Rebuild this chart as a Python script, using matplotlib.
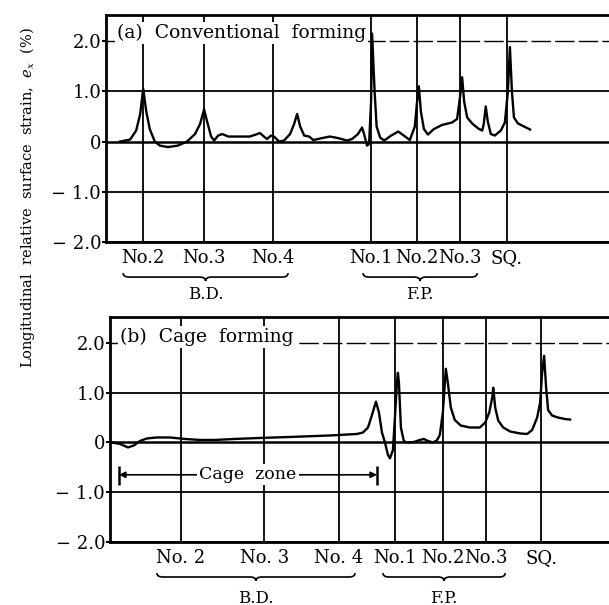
import numpy as np
import matplotlib
matplotlib.use("Agg")
import matplotlib.pyplot as plt
from matplotlib.path import Path
from matplotlib.patches import PathPatch
import matplotlib.transforms as mtrans

plt.rcParams['font.family'] = ['DejaVu Serif']
plt.rcParams['mathtext.fontset'] = 'dejavuserif'

# ---- data (x = position along the line, arbitrary units 0..100) ----
# (a) conventional forming
xa = [2.8, 4.8, 6.0, 6.8, 7.4, 8.0, 8.7, 9.7, 10.7, 12.3, 14.3, 16.1, 17.7, 18.7,
      19.5, 20.1, 20.9, 21.5, 22.3, 23.1, 24.3, 28.6, 29.8, 30.6, 31.4, 32.0, 32.8,
      33.4, 34.4, 35.4, 36.6, 37.4, 38.0, 38.6, 39.4, 40.4, 41.2, 43.0, 44.5, 46.1,
      47.9, 48.9, 50.1, 50.9, 51.3, 51.9, 52.3, 52.7, 52.9, 53.4, 53.8, 54.5, 55.3,
      56.7, 58.1, 59.2, 60.4, 61.4, 61.8, 62.2, 62.6, 63.2, 64.0, 65.2, 66.8, 68.8,
      69.8, 70.4, 70.8, 71.2, 71.8, 72.8, 74.0, 74.8, 75.1, 75.5, 75.9, 76.5, 77.3,
      78.5, 79.3, 79.9, 80.3, 80.7, 81.1, 81.9, 83.1, 84.3]
ya = [0.0, 0.04, 0.22, 0.55, 1.05, 0.6, 0.25, 0.0, -0.08, -0.11, -0.08, 0.0, 0.15, 0.35,
      0.64, 0.4, 0.1, 0.02, 0.12, 0.15, 0.1, 0.1, 0.14, 0.17, 0.1, 0.05, 0.12,
      0.1, 0.0, 0.02, 0.15, 0.35, 0.55, 0.3, 0.12, 0.1, 0.03, 0.07, 0.1, 0.07,
      0.02, 0.05, 0.15, 0.28, 0.15, -0.08, -0.05, 0.8, 2.15, 1.0, 0.3, 0.08, 0.02,
      0.12, 0.2, 0.12, 0.03, 0.3, 0.75, 1.1, 0.6, 0.25, 0.14, 0.25, 0.33, 0.38,
      0.45, 0.9, 1.28, 0.8, 0.48, 0.36, 0.26, 0.22, 0.35, 0.7, 0.4, 0.15, 0.12,
      0.22, 0.38, 1.0, 1.88, 1.0, 0.48, 0.36, 0.3, 0.24]
stations_a = [7.4, 19.5, 33.2, 52.7, 61.8, 70.4, 79.7]
labels_a = ["No.2", "No.3", "No.4", "No.1", "No.2", "No.3", "SQ."]

# (b) cage forming
xb = [0.4, 2.0, 3.6, 4.8, 6.0, 7.4, 9.4, 12.0, 15.0, 18.0, 21.0, 25.0, 30.1, 36.1,
      44.1, 49.5, 50.7, 51.7, 52.5, 53.3, 53.9, 54.5, 55.1, 55.7, 56.1, 56.7, 57.1,
      57.5, 57.7, 57.9, 58.3, 58.9, 59.7, 60.9, 62.1, 62.9, 63.7, 64.7, 65.5, 66.1,
      66.7, 67.3, 67.7, 68.3, 69.1, 70.3, 72.1, 74.1, 75.2, 76.0, 76.6, 76.8, 77.2,
      77.8, 78.8, 80.2, 82.2, 83.6, 84.6, 85.6, 86.2, 86.6, 87.0, 87.4, 87.8, 88.6,
      89.8, 91.2, 92.2]
yb = [0.0, -0.03, -0.1, -0.06, 0.03, 0.08, 0.1, 0.1, 0.07, 0.05, 0.05, 0.07, 0.09, 0.11,
      0.14, 0.17, 0.2, 0.3, 0.55, 0.82, 0.6, 0.2, 0.0, -0.25, -0.32, -0.15, 0.5,
      1.2, 1.4, 1.2, 0.3, 0.02, 0.0, 0.01, 0.05, 0.07, 0.03, 0.0, 0.04, 0.15,
      0.6, 1.48, 1.2, 0.7, 0.45, 0.34, 0.3, 0.3, 0.4, 0.6, 0.9, 1.1, 0.7,
      0.44, 0.3, 0.22, 0.18, 0.17, 0.25, 0.5, 0.8, 1.4, 1.74, 1.1, 0.65, 0.54,
      0.5, 0.47, 0.46]
stations_b = [14.2, 30.9, 45.9, 57.1, 66.7, 75.4, 86.4]
labels_b = ["No. 2", "No. 3", "No. 4", "No.1", "No.2", "No.3", "SQ."]

yticks = [-2, -1, 0, 1, 2]
ytick_labels = ["\u2212 2.0", "\u2212 1.0", "0", "1.0", "2.0"]

cage_zone = (1.8, 53.5)
braces_a = [(3.4, 36.2, "B.D."), (51.1, 73.8, "F.P.")]
braces_b = [(9.4, 49.1, "B.D."), (54.7, 79.2, "F.P.")]


def brace(ax, x0, x1, ytop, h, text, ytext):
    tr = mtrans.blended_transform_factory(ax.transData, ax.transAxes)
    xm = (x0 + x1) / 2
    d = min(1.2, (x1 - x0) / 8)
    verts = [(x0, ytop), (x0, ytop - h / 2), (x0 + d, ytop - h / 2),
             (xm - d, ytop - h / 2), (xm, ytop - h / 2), (xm, ytop - h),
             (xm, ytop - h / 2), (xm + d, ytop - h / 2),
             (x1 - d, ytop - h / 2), (x1, ytop - h / 2), (x1, ytop)]
    codes = [Path.MOVETO, Path.CURVE3, Path.CURVE3, Path.LINETO, Path.CURVE3, Path.CURVE3,
             Path.CURVE3, Path.CURVE3, Path.LINETO, Path.CURVE3, Path.CURVE3]
    p = PathPatch(Path(verts, codes), transform=tr, fc='none', ec='black', lw=1.2,
                  clip_on=False)
    ax.add_patch(p)
    ax.text(xm, ytext, text, transform=tr, ha='center', va='center', fontsize=12)


def setup(ax, stations, labels):
    ax.set_xlim(0, 100)
    ax.set_ylim(-2, 2.52)
    ax.set_xticks(stations)
    ax.set_xticklabels(labels, fontsize=13)
    ax.set_yticks(yticks)
    ax.set_yticklabels(ytick_labels, fontsize=13)
    ax.tick_params(axis='x', length=0, pad=5)
    ax.tick_params(axis='y', length=3, width=1.5, direction='out', pad=0.5)
    ax.grid(True, color='black', lw=1.3)
    ax.get_ygridlines()[4].set_linestyle((0, (14, 3)))
    ax.get_ygridlines()[4].set_linewidth(1.0)
    ax.get_ygridlines()[2].set_linewidth(1.8)
    ax.set_axisbelow(True)
    for s in ['left', 'bottom', 'top']:
        ax.spines[s].set_linewidth(2.0)
    ax.spines['right'].set_visible(False)


fig = plt.figure(figsize=(6.09, 6.05), dpi=100)

ax1 = fig.add_axes([106 / 609, 1 - 242 / 605, 1 - 106 / 609, 227 / 605])
setup(ax1, stations_a, labels_a)
ax1.plot(xa, ya, color='black', lw=1.7)
ax1.text(0.022, 0.92, "(a)  Conventional  forming", transform=ax1.transAxes,
         fontsize=13.5, va='center', ha='left',
         bbox=dict(fc='white', ec='none', pad=1.5))
for x0, x1, t in braces_a:
    brace(ax1, x0, x1, -0.137, 0.035, t, -0.232)

ax2 = fig.add_axes([110 / 609, 1 - 542 / 605, 1 - 110 / 609, 225 / 605])
setup(ax2, stations_b, labels_b)
ax2.plot(xb, yb, color='black', lw=1.7)
ax2.text(0.02, 0.911, "(b)  Cage  forming", transform=ax2.transAxes,
         fontsize=13.5, va='center', ha='left',
         bbox=dict(fc='white', ec='none', pad=1.5))
ax2.annotate("", xy=(cage_zone[0], -0.65), xytext=(cage_zone[1], -0.65),
             arrowprops=dict(arrowstyle='<|-|>', color='black', lw=1.2,
                             mutation_scale=9, shrinkA=0, shrinkB=0))
ax2.vlines(cage_zone, -0.48, -0.85, color='black', lw=1.8)
ax2.text(sum(cage_zone) / 2, -0.65, "Cage  zone", fontsize=12.5, ha='center',
         va='center', bbox=dict(fc='white', ec='none', pad=1.5))
for x0, x1, t in braces_b:
    brace(ax2, x0, x1, -0.138, 0.035, t, -0.249)

fig.text(28 / 609, 1 - 198 / 605,
         "Longitudinal  relative  surface  strain,  $e_x$  (%)",
         rotation=90, ha='center', va='center', fontsize=10.5)

fig.savefig("out.png", dpi=100)
